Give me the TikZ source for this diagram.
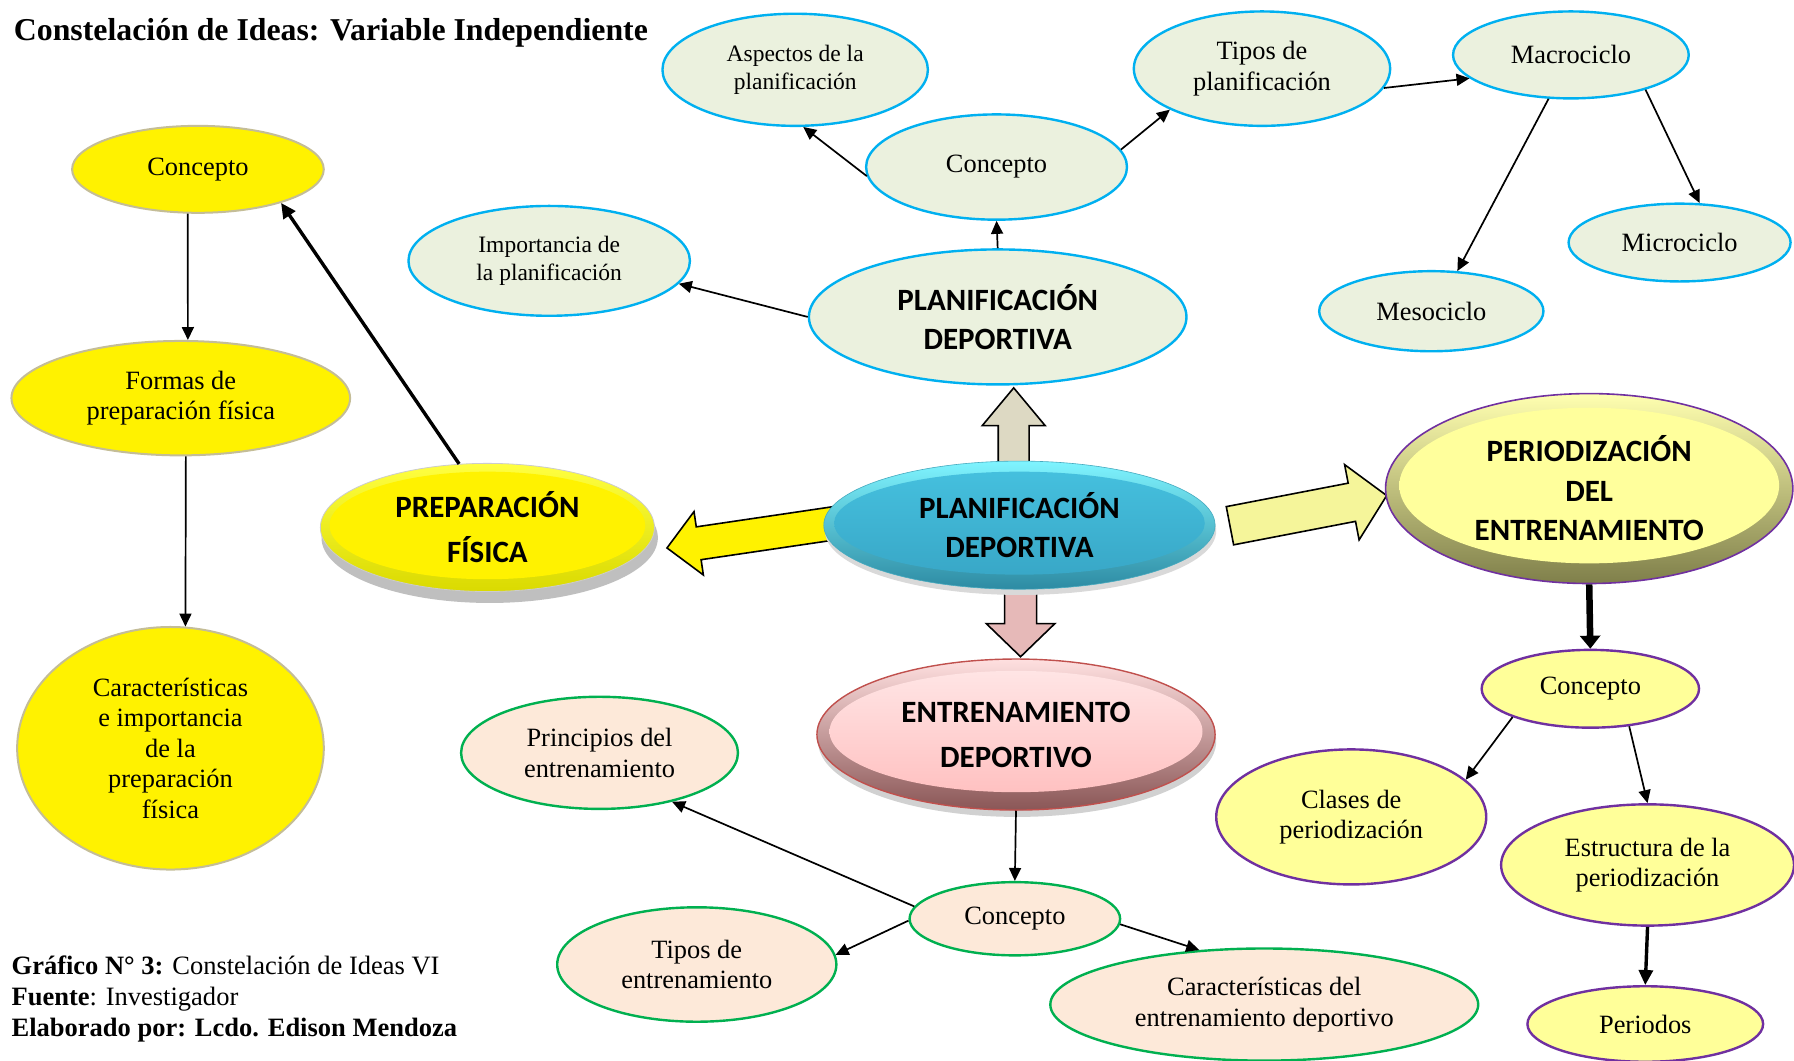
\documentclass[tikz,border=0pt]{standalone}
\usepackage{fontspec}
\setmainfont{Liberation Serif}
\newfontfamily\calfont{Carlito}
\usetikzlibrary{shapes.geometric,arrows.meta}
\definecolor{pgreen}{HTML}{EBF1DE}
\definecolor{pblue}{HTML}{00B0F0}
\definecolor{tanb}{HTML}{C4BD97}
\definecolor{paley}{HTML}{FFFF99}
\definecolor{purp}{HTML}{7030A0}
\definecolor{peach}{HTML}{FDE9D9}
\definecolor{grn}{HTML}{00B050}
\definecolor{cyanhi}{HTML}{7FF4FF}
\definecolor{cyanlo}{HTML}{2D8BA3}
\definecolor{cinA}{HTML}{46C2E0}
\definecolor{cinB}{HTML}{37A4C4}
\definecolor{prepA}{HTML}{FFFF40}
\definecolor{prepB}{HTML}{DADA00}
\definecolor{perA}{HTML}{FFFFB0}
\definecolor{perB}{HTML}{7F7F4A}
\definecolor{perI}{HTML}{FFFF9C}
\definecolor{entA}{HTML}{FFE0E0}
\definecolor{entB}{HTML}{8A5656}
\definecolor{entIA}{HTML}{FFE8E8}
\definecolor{entIB}{HTML}{FFBCBC}
\definecolor{entbd}{HTML}{C0504D}
\definecolor{upc}{HTML}{DDD9C3}
\definecolor{downc}{HTML}{E6B9B8}
\definecolor{rightc}{HTML}{F5F59A}
\begin{document}
\begin{tikzpicture}[x=1.1441pt,y=-1.1441pt,
  ell/.style 2 args={ellipse, minimum width=#1*2.2882pt, minimum height=#2*2.2882pt, inner sep=0pt, align=center},
  sm/.style={font=\fontsize{23.5}{28.5}\selectfont},
  md/.style={font=\fontsize{26.4}{30.5}\selectfont},
  bigA/.style={font=\calfont\bfseries\fontsize{31}{39.5}\selectfont},
  bigB/.style={font=\calfont\bfseries\fontsize{31}{45}\selectfont},
  bluen/.style={draw=pblue, line width=2.4pt, fill=pgreen},
  yeln/.style={draw=tanb, line width=2pt, fill=yellow},
  purn/.style={draw=purp, line width=2.4pt, fill=paley},
  grnn/.style={draw=grn, line width=2.4pt, fill=peach},
  fancy/.style n args={4}{path picture={\path[#1] ([yshift=#4 pt]path picture bounding box.center) ellipse [x radius=#2, y radius=#3];}},
  con/.style={line width=1.7pt, -{Triangle[length=13pt,width=12pt]}},
  thickcon/.style={line width=3.4pt, -{Triangle[length=15pt,width=14pt]}},
  vthick/.style={line width=6.5pt, -{Triangle[length=13pt,width=20pt]}},
  barrow/.style={draw=black, line width=1.6pt, line join=miter},
  shadowc/.style={fill=black!25}
]
\fill[white] (0,0) rectangle (1568,927);
\useasboundingbox (0,0) rectangle (1568,927);

% title and footer
\node[anchor=base west, inner sep=0pt, font=\bfseries\fontsize{31.8}{36}\selectfont] (title) at (12,35) {Constelación de Ideas: Variable Independiente};
\node[anchor=base west, inner sep=0pt, font=\fontsize{26.5}{31}\selectfont] (foot1) at (10,852) {\textbf{Gráfico N° 3:} Constelación de Ideas VI};
\node[anchor=base west, inner sep=0pt, font=\fontsize{26.5}{31}\selectfont] (foot2) at (10,879) {\textbf{Fuente}: Investigador};
\node[anchor=base west, inner sep=0pt, font=\fontsize{26.5}{31}\selectfont] (foot3) at (10,906) {\textbf{Elaborado por: Lcdo. Edison Mendoza}};

% block arrows from the central node
\begin{scope}[shift={(886,418)}, rotate=90]
  \draw[barrow, fill=upc] (0,-13.5) -- (46,-13.5) -- (46,-27.5) -- (79,0) -- (46,27.5) -- (46,13.5) -- (0,13.5) -- cycle;
\end{scope}
\begin{scope}[shift={(892,505)}, rotate=-90]
  \draw[barrow, fill=downc] (0,-14) -- (40,-14) -- (40,-30) -- (69,0) -- (40,30) -- (40,14) -- (0,14) -- cycle;
\end{scope}
\begin{scope}[shift={(745,455)}, rotate=188.4]
  \draw[barrow, fill=yellow] (0,-14.5) -- (135.8,-14.5) -- (135.8,-28) -- (163.8,0) -- (135.8,28) -- (135.8,14.5) -- (0,14.5) -- cycle;
\end{scope}
\begin{scope}[shift={(1075,459.5)}, rotate=10.9]
  \draw[barrow, fill=rightc] (0,-17) -- (108.5,-17) -- (108.5,-33.5) -- (139.5,0) -- (108.5,33.5) -- (108.5,17) -- (0,17) -- cycle;
\end{scope}

% shadows
\fill[shadowc] (428,470) ellipse [x radius=147, y radius=57];
\fill[black!18] (889,648) ellipse [x radius=174, y radius=66];
\fill[black!15] (892,464) ellipse [x radius=171, y radius=56];

% main nodes
\node[ell={171}{56}, bigA, top color=cyanhi, bottom color=cyanlo, draw=cyanlo!70!cyanhi, line width=0.6pt,
      fancy={top color=cinA, bottom color=cinB}{162}{45}{2}] (cen) at (891,459) {PLANIFICACIÓN\\DEPORTIVA};
\node[ell={146}{56}, bigB, top color=prepA, bottom color=prepB, draw=black!20, line width=0.8pt,
      fancy={fill=yellow}{138}{47}{2}] (prep) at (426,461) {PREPARACIÓN\\FÍSICA};
\node[ell={178}{83}, bigA, top color=perA, bottom color=perB, draw=purp, line width=1.6pt,
      fancy={top color=perI, bottom color=perI}{166}{68}{3}] (per) at (1389,427) {PERIODIZACIÓN\\DEL\\ENTRENAMIENTO};
\node[ell={174}{66}, bigB, top color=entA, bottom color=entB, draw=entbd, line width=1.4pt,
      fancy={top color=entIA, bottom color=entIB}{163}{53}{3}] (ent) at (888,642) {ENTRENAMIENTO\\DEPORTIVO};
\node[ell={165}{59}, bigA, bluen] (pt) at (872,277) {PLANIFICACIÓN\\DEPORTIVA};

% blue group
\node[ell={116}{49}, sm, bluen] (asp) at (695,61) {Aspectos de la\\planificación};
\node[ell={112}{50}, md, bluen] (tip) at (1103,60) {Tipos de\\planificación};
\node[ell={103}{38}, md, bluen] (mac) at (1373,48) {Macrociclo};
\node[ell={114}{46}, md, bluen] (con1) at (871,146) {Concepto};
\node[ell={123}{48}, sm, bluen] (imp) at (480,228) {Importancia de\\la planificación};
\node[ell={97}{34}, md, bluen] (mic) at (1468,212) {Microciclo};
\node[ell={98}{35}, md, bluen] (mes) at (1251,272) {Mesociclo};

% yellow group
\node[ell={110}{38}, md, yeln] (cy1) at (173,148) {Concepto};
\node[ell={148}{50}, md, yeln] (cy2) at (158,348) {Formas de\\preparación física};
\node[ell={134}{106}, md, yeln] (cy3) at (149,654) {Características\\e importancia\\de la\\preparación\\física};

% purple group
\node[ell={95}{34}, md, purn] (pc) at (1390,602) {Concepto};
\node[ell={118}{59}, md, purn] (pcl) at (1181,714) {Clases de\\periodización};
\node[ell={128}{53}, md, purn] (pes) at (1440,756) {Estructura de la\\periodización};
\node[ell={103}{33}, md, purn] (ppe) at (1438,895) {Periodos};

% green group
\node[ell={121}{49}, md, grnn] (gpr) at (524,658) {Principios del\\entrenamiento};
\node[ell={92}{32}, md, grnn] (gc) at (887,803) {Concepto};
\node[ell={122}{50}, md, grnn] (gti) at (609,843) {Tipos de\\entrenamiento};
\node[ell={187}{49}, md, grnn] (gca) at (1105,878) {Características del\\entrenamiento deportivo};

% connectors
\draw[con] (con1.184.5) -- (asp.278);
\draw[con] (con1.8.4) -- (tip.204);
\draw[con] (tip.351.5) -- (mac.193);
\draw[con] (mac.335.5) -- (mic.63.4);
\draw[con] (mac.243) -- (mes.57.8);
\draw[con] (pt.north) -- (con1.south);
\draw[con] (pt.180) -- (imp.350.4);
\draw[con] (cy1.257) -- (cy2.83.3);
\draw[con] (cy2.275.8) -- (cy3.83);
\draw[thickcon] (prep.114) -- (cy1.338.7);
\draw[con] (ent.south) -- (gc.north);
\draw[con] (gc.173.8) -- (gpr.326.5);
\draw[con] (gc.181) -- (gti.4.2);
\draw[con] (gc.357.5) -- (gca.140.9);
\draw[vthick] (per.south) -- (pc.north);
\draw[con] (pc.200.4) -- (pcl.18.6);
\draw[con] (pc.316.6) -- (pes.90);
\draw[thickcon] (pes.south) -- (ppe.north);
\end{tikzpicture}
\end{document}
